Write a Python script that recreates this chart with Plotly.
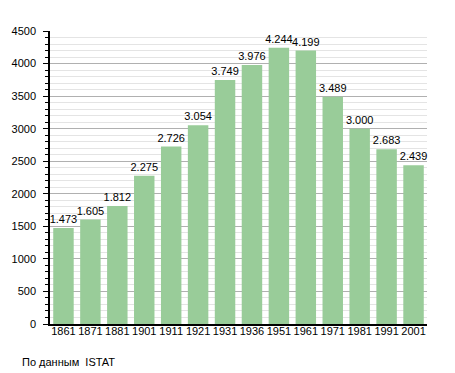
import plotly.graph_objects as go

years = ["1861", "1871", "1881", "1901", "1911", "1921", "1931", "1936", "1951", "1961", "1971", "1981", "1991", "2001"]
population = [1473, 1605, 1812, 2275, 2726, 3054, 3749, 3976, 4244, 4199, 3489, 3000, 2683, 2439]
labels = [f"{v:,}".replace(",", ".") for v in population]
source_note = "По данным  ISTAT"

# page body has an 8px margin, so the figure is offset by (8, 8)
fig = go.Figure(go.Bar(
    x=years, y=population, text=labels, textposition="outside",
    constraintext="none",
    marker=dict(color="#99cc99", line=dict(width=0)),
    textfont=dict(color="#000000", size=11, family="Liberation Sans, Arial, sans-serif"),
    cliponaxis=False,
))

fig.update_layout(
    width=447, height=365,
    margin=dict(l=42, r=28, t=23, b=49, autoexpand=False),
    paper_bgcolor="white", plot_bgcolor="white",
    bargap=0.24,
    showlegend=False,
    font=dict(family="Liberation Sans, Arial, sans-serif", size=11, color="#000000"),
    annotations=[dict(text=source_note, x=(12 - 42) / 377, y=-38 / 293, xref="paper", yref="paper",
                      xanchor="left", yanchor="middle", showarrow=False,
                      font=dict(size=11))],
)

fig.update_xaxes(
    showline=True, linecolor="black", linewidth=1.5, automargin=False,
    ticks="", tickfont=dict(size=11), ticklabelstandoff=-4,
)
fig.update_yaxes(
    range=[0, 4500], dtick=500, showline=True, linecolor="black", linewidth=1.5,
    automargin=False,
    ticks="outside", ticklen=5, tickcolor="black", ticklabelstandoff=5,
    showgrid=True, gridcolor="#b0b0b0", gridwidth=1,
    zeroline=False,
    tickfont=dict(size=11),
    minor=dict(dtick=100, showgrid=True, gridcolor="#e4e4e4", ticks="outside",
               ticklen=3, tickcolor="black"),
)

fig.write_html("out.html")
